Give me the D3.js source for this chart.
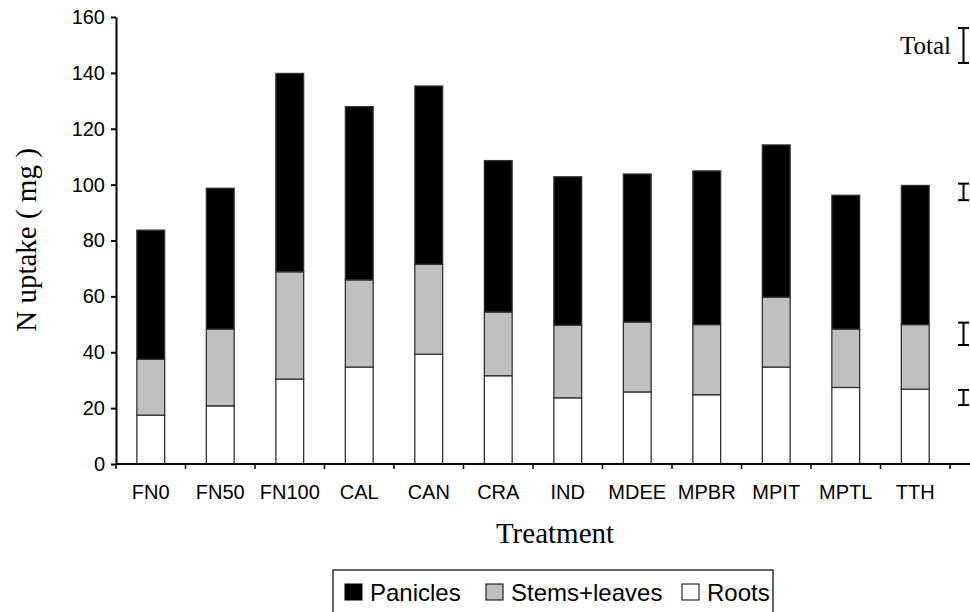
<!DOCTYPE html>
<html>
<head>
<meta charset="utf-8">
<script src="https://cdn.jsdelivr.net/npm/d3@7"></script>
<style>
  body { margin:0; background:#fff; }
  svg text { fill:#000; }
</style>
</head>
<body>
<div class="chart_stack"></div>
<script>
var categories = ["FN0","FN50","FN100","CAL","CAN","CRA","IND","MDEE","MPBR","MPIT","MPTL","TTH"];
var roots      = [17.5, 20.8, 30.4, 34.7, 39.3, 31.6, 23.7, 25.8, 24.8, 34.7, 27.4, 26.8];
var stems      = [20.0, 27.5, 38.4, 31.2, 32.2, 22.8, 26.0, 25.0, 25.1, 25.0, 20.9, 23.1];
var panicles   = [46.2, 50.4, 71.0, 62.0, 63.8, 54.2, 53.1, 53.0, 55.0, 54.5, 47.9, 49.8];
var yTicks     = [0, 20, 40, 60, 80, 100, 120, 140, 160];

// LSD bars on the right: centre value, full length, label
var lsdCenter = [149.8, 97.4, 46.6, 23.8];
var lsdLength = [12.5, 5.9, 8.0, 5.4];
var lsdLabel  = ["Total", "", "", ""];

var seriesKeys   = ["roots", "stems", "panicles"];
var seriesNames  = {panicles:"Panicles", stems:"Stems+leaves", roots:"Roots"};
var seriesColors = {roots:"#ffffff", stems:"#c0c0c0", panicles:"#000000"};

function mainChart(){
  var W = 970, H = 612;
  var x0 = 116, x1 = 950, yBot = 464, yTop = 17;

  var svg = d3.select(".chart_stack").append("svg")
    .attr("width", W).attr("height", H);

  var rows = categories.map(function(c, i){
    return {cat:c, roots:roots[i], stems:stems[i], panicles:panicles[i]};
  });

  var xScale = d3.scaleBand()
    .domain(categories)
    .range([x0, x1])
    .paddingInner(0.6)
    .paddingOuter(0.3);
  var yScale = d3.scaleLinear()
    .domain([0, 160])
    .range([yBot, yTop]);

  var stacked = d3.stack().keys(seriesKeys)(rows);

  svg.selectAll(".layer")
    .data(stacked)
    .enter().append("g")
    .attr("class", "layer")
    .attr("fill", function(d){ return seriesColors[d.key]; })
    .selectAll("rect")
    .data(function(d){ return d; })
    .enter().append("rect")
    .attr("x", function(d){ return xScale(d.data.cat); })
    .attr("width", xScale.bandwidth())
    .attr("y", function(d){ return yScale(d[1]); })
    .attr("height", function(d){ return yScale(d[0]) - yScale(d[1]); })
    .attr("stroke", "#333")
    .attr("stroke-width", 1.3);

  // y axis
  var yAxis = svg.append("g")
    .attr("class", "y axis")
    .attr("transform", "translate(" + x0 + ",0)")
    .call(d3.axisLeft(yScale).tickValues(yTicks).tickSize(5).tickPadding(6).tickSizeOuter(0));
  yAxis.select(".domain").attr("stroke", "#000").attr("stroke-width", 2);
  yAxis.selectAll(".tick line").attr("stroke", "#000").attr("stroke-width", 2);
  yAxis.selectAll(".tick text")
    .attr("font-family", "Liberation Sans, Arial, sans-serif")
    .attr("font-size", 20);

  // x axis: line with ticks at band boundaries
  var step = xScale.step();
  var bounds = d3.range(categories.length + 1).map(function(i){ return x0 + i * step; });
  var xAxis = svg.append("g").attr("class", "x axis");
  xAxis.append("line")
    .attr("x1", x0).attr("x2", W)
    .attr("y1", yBot).attr("y2", yBot)
    .attr("stroke", "#000").attr("stroke-width", 2);
  xAxis.selectAll(".xtick")
    .data(bounds)
    .enter().append("line")
    .attr("class", "xtick")
    .attr("x1", function(d){ return d; }).attr("x2", function(d){ return d; })
    .attr("y1", yBot).attr("y2", yBot + 5)
    .attr("stroke", "#000").attr("stroke-width", 1.5);
  xAxis.selectAll(".xlab")
    .data(categories)
    .enter().append("text")
    .attr("class", "xlab")
    .attr("x", function(d){ return xScale(d) + xScale.bandwidth() / 2; })
    .attr("y", 499)
    .attr("text-anchor", "middle")
    .attr("font-family", "Liberation Sans, Arial, sans-serif")
    .attr("font-size", 20)
    .text(function(d){ return d; });

  // axis titles
  svg.append("text")
    .attr("transform", "translate(36,240) rotate(-90)")
    .attr("text-anchor", "middle")
    .attr("font-family", "Liberation Serif, Times New Roman, serif")
    .attr("font-size", 29)
    .text("N uptake ( mg )");
  svg.append("text")
    .attr("x", 555).attr("y", 543)
    .attr("text-anchor", "middle")
    .attr("font-family", "Liberation Serif, Times New Roman, serif")
    .attr("font-size", 29)
    .text("Treatment");

  // LSD bars
  var bx = 963.5, cap = 5.5;
  var lsd = svg.selectAll(".lsd")
    .data(lsdCenter.map(function(c, i){ return {c:c, len:lsdLength[i], label:lsdLabel[i]}; }))
    .enter().append("g").attr("class", "lsd")
    .attr("stroke", "#000").attr("stroke-width", 2);
  lsd.append("line")
    .attr("x1", bx).attr("x2", bx)
    .attr("y1", function(d){ return yScale(d.c + d.len / 2); })
    .attr("y2", function(d){ return yScale(d.c - d.len / 2); });
  lsd.append("line")
    .attr("x1", bx - cap).attr("x2", bx + cap)
    .attr("y1", function(d){ return yScale(d.c + d.len / 2); })
    .attr("y2", function(d){ return yScale(d.c + d.len / 2); });
  lsd.append("line")
    .attr("x1", bx - cap).attr("x2", bx + cap)
    .attr("y1", function(d){ return yScale(d.c - d.len / 2); })
    .attr("y2", function(d){ return yScale(d.c - d.len / 2); });
  lsd.filter(function(d){ return d.label; })
    .append("text")
    .attr("stroke", "none")
    .attr("x", 951)
    .attr("y", function(d){ return yScale(d.c) + 9; })
    .attr("text-anchor", "end")
    .attr("font-family", "Liberation Serif, Times New Roman, serif")
    .attr("font-size", 25)
    .text(function(d){ return d.label; });

  // legend
  var legend = svg.append("g").attr("class", "legend");
  legend.append("rect")
    .attr("x", 333).attr("y", 570)
    .attr("width", 440).attr("height", 60)
    .attr("fill", "#fff").attr("stroke", "#333").attr("stroke-width", 1.5);
  var legendKeys = ["panicles", "stems", "roots"];
  var swatchX = [345, 486, 682];
  var items = legend.selectAll(".item")
    .data(legendKeys)
    .enter().append("g").attr("class", "item");
  items.append("rect")
    .attr("x", function(d, i){ return swatchX[i]; })
    .attr("y", 584)
    .attr("width", 17).attr("height", 16)
    .attr("fill", function(d){ return seriesColors[d]; })
    .attr("stroke", "#000").attr("stroke-width", 1);
  items.append("text")
    .attr("x", function(d, i){ return swatchX[i] + 25; })
    .attr("y", 601)
    .attr("font-family", "Liberation Sans, Arial, sans-serif")
    .attr("font-size", 24)
    .text(function(d){ return seriesNames[d]; });
}

mainChart();
</script>
</body>
</html>
